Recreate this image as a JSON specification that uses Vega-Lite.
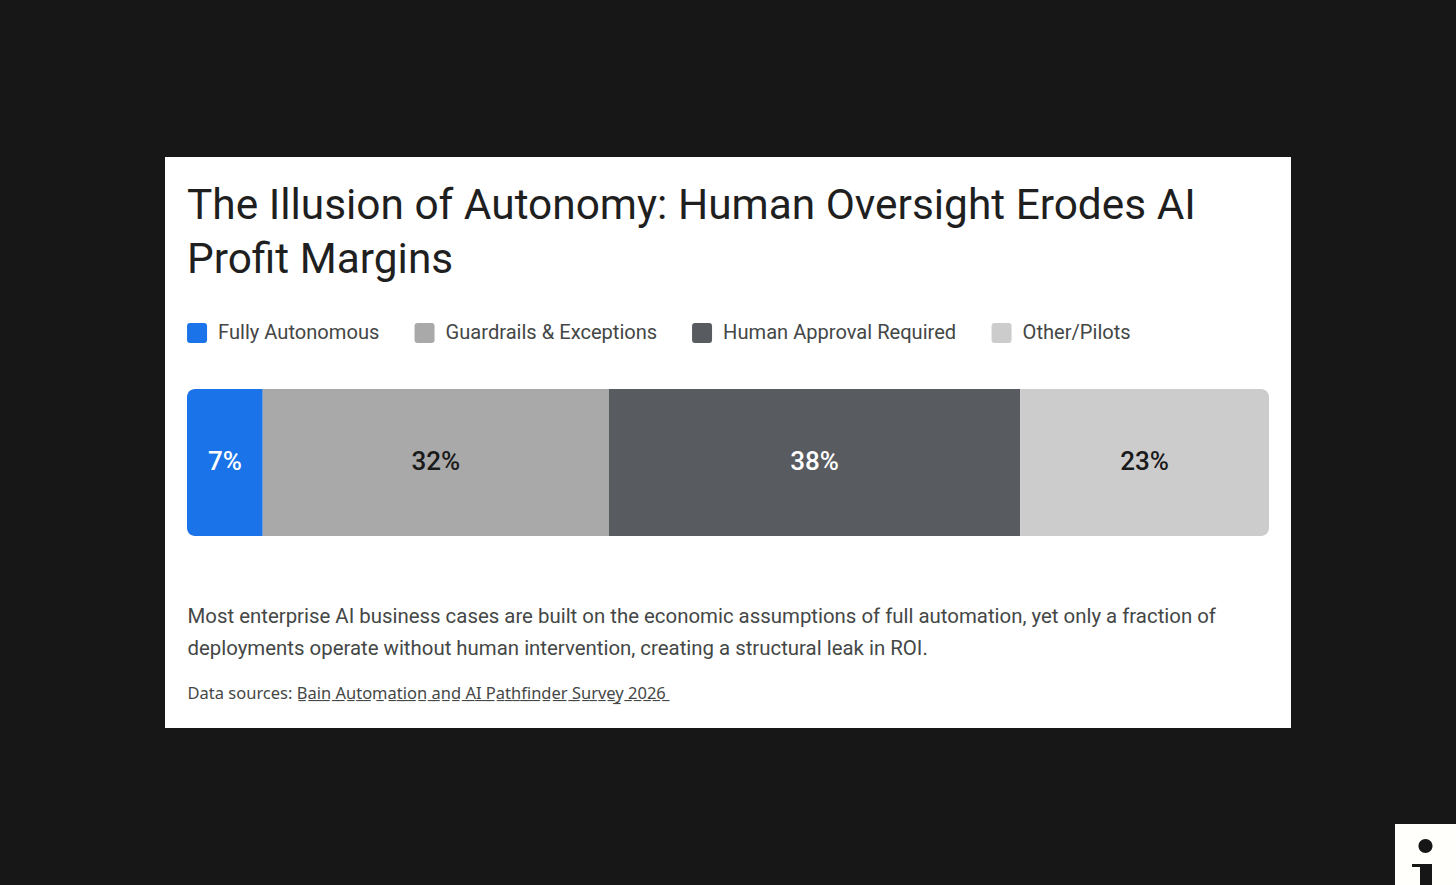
{
  "$schema": "https://vega.github.io/schema/vega-lite/v6.json",
  "width": 1126,
  "height": 571,
  "autosize": {"type": "none"},
  "padding": {"left": 165, "top": 157, "right": 165, "bottom": 157},
  "background": "#171717",
  "view": {"fill": "#ffffff", "stroke": null},
  "title": {
    "text": ["The Illusion of Autonomy: Human Oversight Erodes AI", "Profit Margins"],
    "anchor": "start",
    "frame": "group",
    "dx": 22,
    "offset": -158,
    "baseline": "alphabetic",
    "font": "Roboto",
    "fontSize": 42.4,
    "fontWeight": 400,
    "lineHeight": 54,
    "color": "#1f1f1f"
  },
  "data": {
    "values": [
      {"category": "Fully Autonomous", "share": 7, "label": "7%", "rank": 1, "row": "Deployments"},
      {"category": "Guardrails & Exceptions", "share": 32, "label": "32%", "rank": 2, "row": "Deployments"},
      {"category": "Human Approval Required", "share": 38, "label": "38%", "rank": 3, "row": "Deployments"},
      {"category": "Other/Pilots", "share": 23, "label": "23%", "rank": 4, "row": "Deployments"}
    ]
  },
  "transform": [
    {"stack": "share", "groupby": ["row"], "sort": [{"field": "rank", "order": "ascending"}], "as": ["x0", "x1"]}
  ],
  "encoding": {
    "y": {
      "field": "row",
      "type": "nominal",
      "scale": {"domain": ["Deployments"], "paddingInner": 0.3066, "paddingOuter": 1, "align": 0.547},
      "axis": {
        "title": "Data sources: B̲a̲i̲n̲ ̲A̲u̲t̲o̲m̲a̲t̲i̲o̲n̲ ̲a̲n̲d̲ ̲A̲I̲ ̲P̲a̲t̲h̲f̲i̲n̲d̲e̲r̲ ̲S̲u̲r̲v̲e̲y̲ ̲2̲0̲2̲6̲",
        "titleAngle": 0,
        "titleAlign": "left",
        "titleBaseline": "alphabetic",
        "titleX": 22,
        "titleY": 541,
        "titleFont": "Noto Sans",
        "titleFontSize": 16.5,
        "titleFontWeight": 400,
        "titleColor": "#444746",
        "labels": false,
        "ticks": false,
        "domain": false,
        "grid": false
      }
    }
  },
  "layer": [
    {
      "transform": [{"filter": "datum.rank == 1"}],
      "mark": {"type": "bar", "cornerRadiusTopLeft": 8, "cornerRadiusBottomLeft": 8},
      "encoding": {
        "x": {
          "field": "x0",
          "type": "quantitative",
          "scale": {"domain": [-2.033, 102.033], "nice": false, "zero": false},
          "axis": {
            "title": [
              "Most enterprise AI business cases are built on the economic assumptions of full automation, yet only a fraction of",
              "deployments operate without human intervention, creating a structural leak in ROI."
            ],
            "titleAnchor": "start",
            "titleAlign": "left",
            "titleBaseline": "alphabetic",
            "titleX": 22,
            "titleY": -106,
            "titleFont": "Roboto",
            "titleFontSize": 20.4,
            "titleFontWeight": 400,
            "titleLineHeight": 32,
            "titleColor": "#444746",
            "labels": false,
            "ticks": false,
            "domain": false,
            "grid": false
          }
        },
        "x2": {"field": "x1"},
        "color": {
          "field": "category",
          "type": "nominal",
          "scale": {
            "domain": ["Fully Autonomous", "Guardrails & Exceptions", "Human Approval Required", "Other/Pilots"],
            "range": ["#1a73e8", "#a9a9a9", "#585b60", "#cccccc"]
          },
          "legend": {
            "title": null,
            "orient": "none",
            "legendX": 22,
            "legendY": 166,
            "direction": "horizontal",
            "columns": 4,
            "gridAlign": "none",
            "columnPadding": 34.5,
            "padding": 0,
            "symbolType": "M-0.7,-1H0.7Q1,-1 1,-0.7V0.7Q1,1 0.7,1H-0.7Q-1,1 -1,0.7V-0.7Q-1,-1 -0.7,-1Z",
            "symbolSize": 400,
            "symbolStrokeWidth": 0,
            "labelOffset": 11,
            "labelFont": "Roboto",
            "labelFontSize": 20.1,
            "labelColor": "#444746",
            "labelLimit": 400
          }
        }
      }
    },
    {
      "transform": [{"filter": "datum.rank == 2 || datum.rank == 3"}],
      "mark": {"type": "bar"},
      "encoding": {
        "x": {"field": "x0", "type": "quantitative"},
        "x2": {"field": "x1"},
        "color": {"field": "category", "type": "nominal"}
      }
    },
    {
      "transform": [{"filter": "datum.rank == 4"}],
      "mark": {"type": "bar", "cornerRadiusTopRight": 8, "cornerRadiusBottomRight": 8},
      "encoding": {
        "x": {"field": "x0", "type": "quantitative"},
        "x2": {"field": "x1"},
        "color": {"field": "category", "type": "nominal"}
      }
    },
    {
      "mark": {"type": "text", "font": "Roboto", "fontSize": 26, "fontWeight": 500},
      "encoding": {
        "x": {"field": "share", "type": "quantitative", "stack": "zero", "bandPosition": 0.5},
        "detail": {"field": "category"},
        "order": {"field": "rank"},
        "text": {"field": "label"},
        "color": {
          "condition": {"test": "datum.rank == 1 || datum.rank == 3", "value": "#ffffff"},
          "value": "#1a1a1a"
        }
      }
    },
    {
      "data": {"values": [{"badge": "i"}]},
      "mark": {"type": "point", "filled": true, "size": 0, "color": "#161616"},
      "encoding": {
        "y": {"value": 0},
        "shape": {
          "field": "badge",
          "type": "nominal",
          "scale": {"domain": ["i"], "range": ["M0.23,-0.279A0.23,0.23 0 1,1 -0.23,-0.279A0.23,0.23 0 1,1 0.23,-0.279Z M-0.443,0.311H0.213V1H-0.18V0.41H-0.443Z"]},
          "legend": {
            "title": null,
            "orient": "none",
            "legendX": 1230,
            "legendY": 667,
            "padding": 0,
            "fillColor": "#fffffb",
            "symbolSize": 3721,
            "symbolStrokeWidth": 0,
            "symbolOpacity": 1,
            "labelExpr": "''",
            "labelOffset": 0
          }
        }
      }
    }
  ]
}
